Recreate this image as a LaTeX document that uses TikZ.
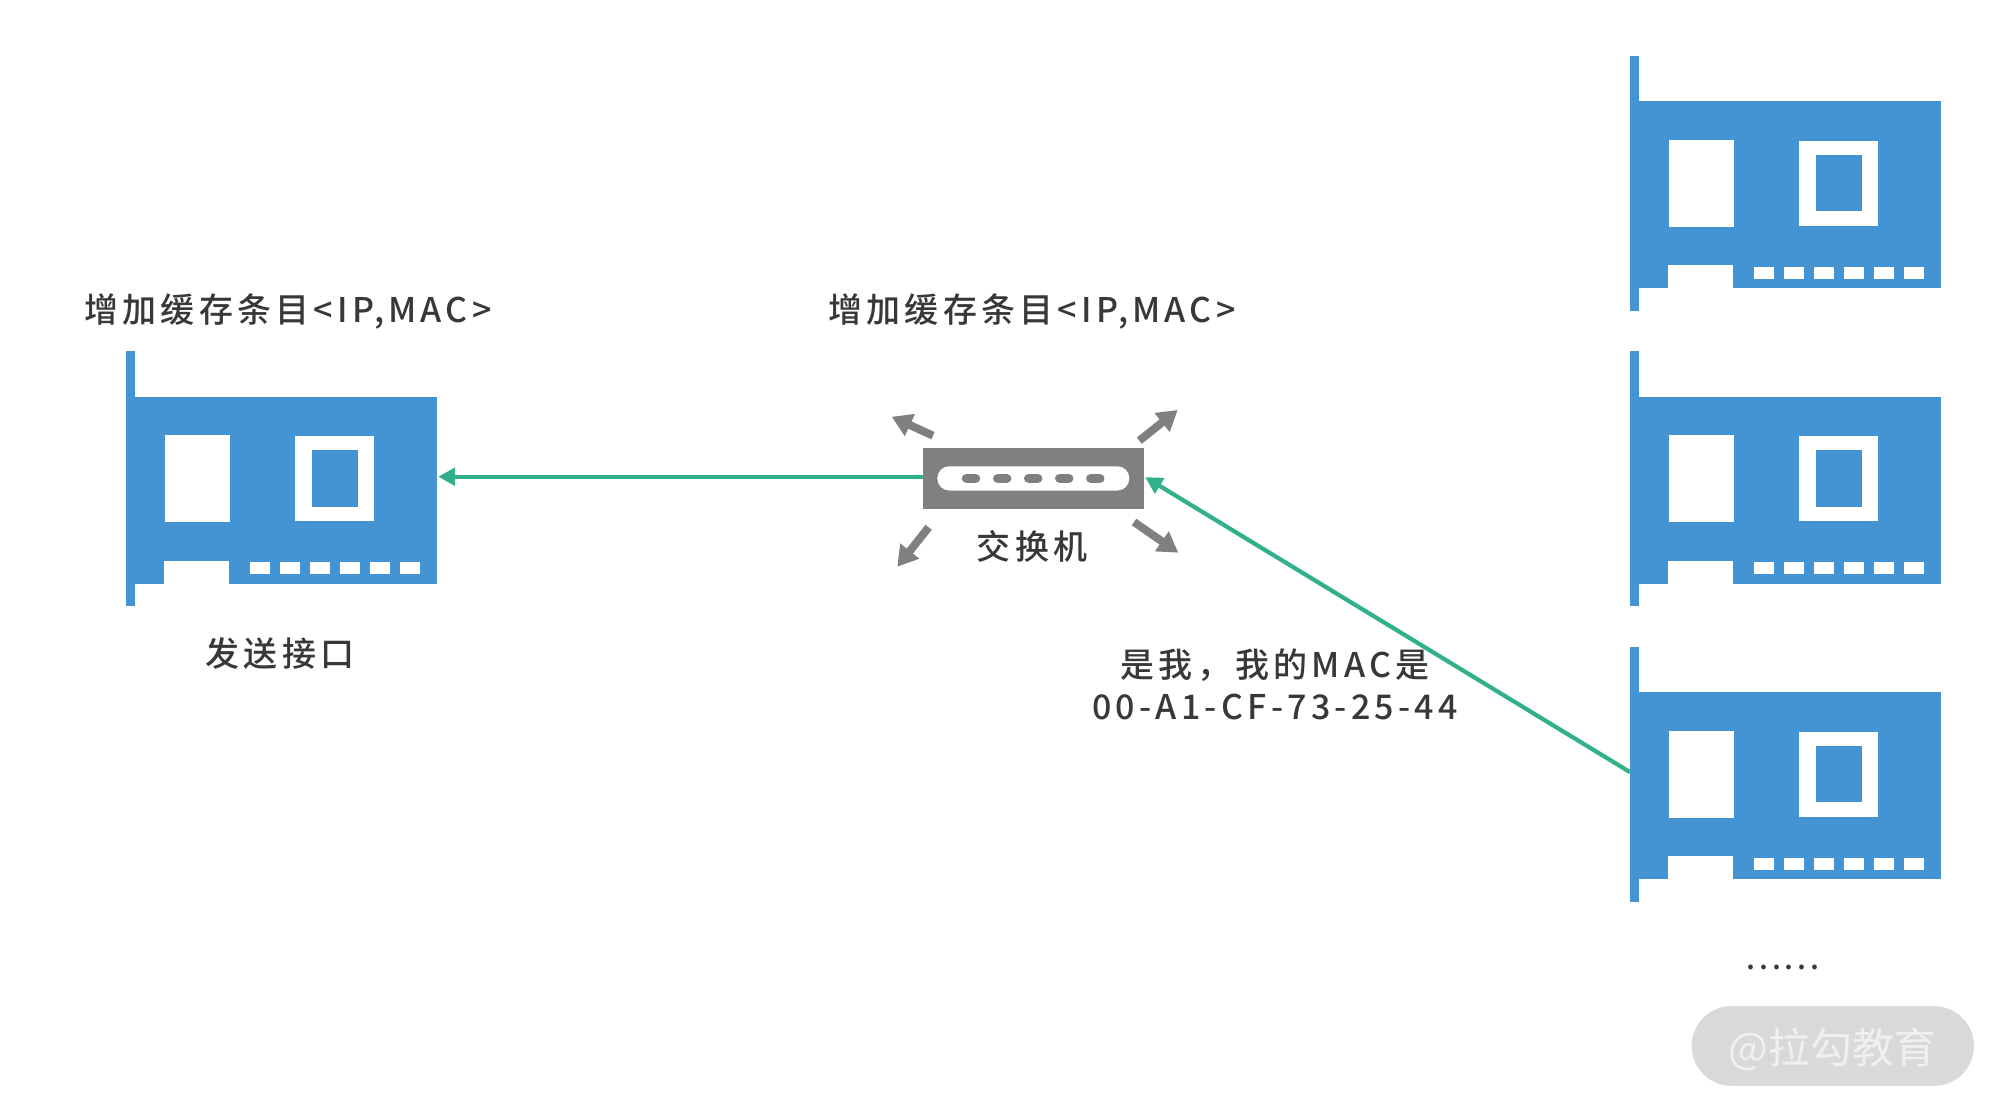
\documentclass[tikz,border=0pt]{standalone}
\usepackage{fontspec}
\usetikzlibrary{arrows.meta}
\newfontfamily\cjklabel[LetterSpace=12.5]{Noto Sans CJK SC Medium}
\newfontfamily\cjkmark{Noto Sans CJK SC}
\definecolor{nicblue}{HTML}{4493D2}
\definecolor{linkgreen}{HTML}{30B08B}
\definecolor{swgray}{HTML}{808080}
\definecolor{labelink}{HTML}{383838}
\definecolor{pillgray}{HTML}{D9D9D9}
\definecolor{pillink}{HTML}{F0F0F0}
\tikzset{
  x=1pt,y=-1pt,
  labeltext/.style={text=labelink,inner sep=0pt,align=center,font=\cjklabel\fontsize{34}{42}\selectfont},
  linkline/.style={draw=linkgreen,line width=4.2pt,-{Triangle[length=17pt,width=17.5pt]}},
  spread/.style={draw=swgray,line width=8pt,-{Triangle[length=20pt,width=23pt]}},
  nic/.pic={
    \node[fill=nicblue,inner sep=0pt,minimum width=310.7pt,minimum height=186.7pt] (-body) at (155.35,138.95) {};
    \fill[nicblue] (0,0) rectangle (8.7,255);
    \fill[white] (38,209.3) rectangle (102.7,233);
    \fill[white] (39,84) rectangle (104.3,171);
    \fill[white] (169,85) rectangle (248.3,170);
    \fill[nicblue] (186.3,99) rectangle (232,155.6);
    \foreach \px in {123.7,153.7,184,214,244,274.3}
      \fill[white] (\px,211) rectangle (\px+20,223);
    \coordinate (-portw) at (0,125.5);
    \coordinate (-porte) at (310.7,125.5);
  }
}
\begin{document}
\begin{tikzpicture}
\useasboundingbox (0,0) rectangle (2000,1112);
\fill[white] (0,0) rectangle (2000,1112);
\pic (nicL) at (126,351.2) {nic};
\pic (nicA) at (1630,55.7) {nic};
\pic (nicB) at (1630,351.2) {nic};
\pic (nicC) at (1630,646.6) {nic};
% switch
\node[fill=swgray,inner sep=0pt,minimum width=221pt,minimum height=61.7pt] (sw) at (1033.2,478.5) {};
\node[fill=white,rounded corners=12pt,inner sep=0pt,minimum width=192pt,minimum height=24.3pt] (swslot) at (1033.3,478.4) {};
\foreach \dx in {971,1002.2,1033.2,1064.2,1095.3}
  \fill[swgray,rounded corners=4.3pt] (\dx-9.2,474.1) rectangle (\dx+9.2,482.8);
% spreading arrows
\coordinate (tl0) at (933,435.7); \coordinate (tl1) at (891.7,416.7);
\coordinate (tr0) at (1139.3,440.7); \coordinate (tr1) at (1177.7,410);
\coordinate (bl0) at (928.7,527.3); \coordinate (bl1) at (897.3,566.7);
\coordinate (br0) at (1134,522); \coordinate (br1) at (1178.3,552.7);
\draw[spread] (tl0) -- (tl1);
\draw[spread] (tr0) -- (tr1);
\draw[spread] (bl0) -- (bl1);
\draw[spread] (br0) -- (br1);
% links
\draw[linkline,shorten >=1.5pt] (sw.west |- nicL-porte) -- (nicL-porte);
\coordinate (swport) at ([xshift=1.3pt,yshift=1.4pt]sw.east);
\draw[linkline] (nicC-portw) -- (swport);
% labels
\node[labeltext] (capL) at (288,311) {增加缓存条目<IP,MAC>};
\node[labeltext] (capS) at (1032,311) {增加缓存条目<IP,MAC>};
\node[labeltext] (swname) at (1032,546) {交换机};
\node[labeltext] (send) at (280,653.5) {发送接口};
\node[labeltext] (reply) at (1275,684.5) {是我，我的MAC是\\00-A1-CF-73-25-44};
\node[labeltext,anchor=base,font=\cjklabel\fontsize{30}{32}\selectfont] (more) at (1783,969) {......};
% watermark
\node[fill=pillgray,rounded corners=39.8pt,inner sep=0pt,minimum width=282.3pt,minimum height=79.7pt] (mark) at (1832.8,1046) {};
\node[text=pillink,inner sep=0pt,font=\cjkmark\fontsize{42}{46}\selectfont] (marktext) at (1832.5,1049) {@拉勾教育};
\end{tikzpicture}
\end{document}
